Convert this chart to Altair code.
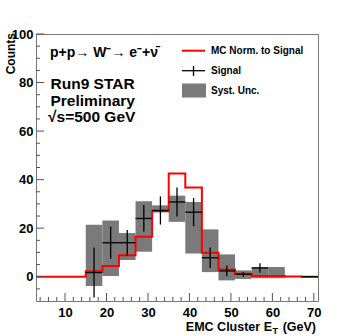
import altair as alt
import pandas as pd

# ---- data ----
bin_edges = list(range(3, 72, 4))  # 3, 7, ..., 71
mc_counts = [0, 0, 0, 2.3, 4.4, 8.8, 16.5, 27.0, 42.5, 36.8, 9.9, 3.0, 1.2, 0.3, 0.3, 0.1, 0.0]

sig_x = [17, 21, 25, 29, 33, 37, 41, 45, 49, 53, 57, 69]
sig_y = [1.7, 14.0, 14.0, 24.0, 27.3, 30.8, 26.6, 7.8, 2.4, 1.0, 3.6, 0.0]
sig_err = [10.3, 6.7, 5.3, 5.5, 5.8, 6.0, 5.8, 4.2, 2.2, 1.0, 2.0, 0.0]

syst_left = [15, 19, 23, 27, 31, 35, 39, 43, 47, 51, 55, 59]
syst_low = [-3.8, 0.3, 6.9, 10.3, 26.6, 22.6, 9.6, 1.9, -1.5, -0.9, -0.6, -0.6]
syst_high = [21.4, 23.2, 18.0, 31.1, 29.4, 33.4, 30.8, 19.5, 9.2, 2.6, 4.0, 4.0]

bin_width = 4
x_major = [10, 20, 30, 40, 50, 60, 70]
x_minor = [v for v in range(4, 71, 2) if v % 10 != 0]
y_major = [0, 20, 40, 60, 80, 100]
y_minor = [v for v in range(-5, 100, 5) if v % 20 != 0]

FONT = "Liberation Sans"
W, H = 282, 267

xs = alt.Scale(domain=[3, 71], nice=False, zero=False)
ys = alt.Scale(domain=[-10, 100], nice=False, zero=False)

# ---- tables ----
mc_df = pd.DataFrame({"x": bin_edges, "y": mc_counts + [mc_counts[-1]]})
sig_df = pd.DataFrame({"x": sig_x, "y": sig_y, "err": sig_err})
sig_df["xl"] = sig_df["x"] - bin_width / 2
sig_df["xr"] = sig_df["x"] + bin_width / 2
sig_df["lo"] = sig_df["y"] - sig_df["err"]
sig_df["hi"] = sig_df["y"] + sig_df["err"]
syst_df = pd.DataFrame({"l": syst_left, "lo": syst_low, "hi": syst_high})
syst_df["r"] = syst_df["l"] + bin_width

xmaj_df = pd.DataFrame({"v": x_major})
xmin_df = pd.DataFrame({"v": x_minor})
ymaj_df = pd.DataFrame({"v": y_major})
ymin_df = pd.DataFrame({"v": y_minor})

x_axis = alt.Axis(values=x_major, grid=False, domain=False, ticks=False, tickSize=0,
                  labelFont=FONT, labelFontSize=13, labelFontWeight="bold",
                  labelColor="black", labelPadding=5, title=None)
y_axis = alt.Axis(values=y_major, grid=False, domain=False, ticks=False, tickSize=0,
                  labelFont=FONT, labelFontSize=13, labelFontWeight="bold",
                  labelColor="black", labelPadding=3, title=None)

boxes = alt.Chart(syst_df).mark_rect(color="#7a7a7a", clip=True).encode(
    x=alt.X("l:Q", scale=xs, axis=x_axis), x2="r:Q",
    y=alt.Y("lo:Q", scale=ys, axis=y_axis), y2="hi:Q")

mc = alt.Chart(mc_df).mark_line(interpolate="step-after", color="#ff0000",
                                strokeWidth=2, clip=True).encode(
    x=alt.X("x:Q", scale=xs), y=alt.Y("y:Q", scale=ys))

sig_h = alt.Chart(sig_df).mark_rule(color="black", strokeWidth=1.3, clip=True).encode(
    x=alt.X("xl:Q", scale=xs), x2="xr:Q", y=alt.Y("y:Q", scale=ys))
sig_v = alt.Chart(sig_df).mark_rule(color="black", strokeWidth=1.3, clip=True).encode(
    x=alt.X("x:Q", scale=xs), y=alt.Y("lo:Q", scale=ys), y2="hi:Q")

# inward ticks
tick_col = "#555555"
xt_major = alt.Chart(xmaj_df).mark_rule(color=tick_col).encode(
    x=alt.X("v:Q", scale=xs), y=alt.value(H), y2=alt.value(H - 8))
xt_minor = alt.Chart(xmin_df).mark_rule(color=tick_col).encode(
    x=alt.X("v:Q", scale=xs), y=alt.value(H), y2=alt.value(H - 4))
yt_major = alt.Chart(ymaj_df).mark_rule(color=tick_col).encode(
    y=alt.Y("v:Q", scale=ys), x=alt.value(0), x2=alt.value(8))
yt_minor = alt.Chart(ymin_df).mark_rule(color=tick_col).encode(
    y=alt.Y("v:Q", scale=ys), x=alt.value(0), x2=alt.value(4))


def txt(s, x, y, size, align="left", baseline="alphabetic", angle=0):
    return alt.Chart(pd.DataFrame({"t": [s]})).mark_text(
        font=FONT, fontWeight="bold", fontSize=size, align=align,
        baseline=baseline, angle=angle, color="black").encode(
        text="t:N", x=alt.value(x), y=alt.value(y))


texts = [
    txt("p+p\u2192 W\u207b\u2192 e\u207b+\u03bd\u0304", 14, 23, 14),
    txt("Run9 STAR", 14.5, 55, 15.5),
    txt("Preliminary", 14.5, 72, 15.5),
    txt("\u221as=500 GeV", 12, 88, 15.5),
    txt("MC Norm. to Signal", 175, 16.5, 10, baseline="middle"),
    txt("Signal", 175, 36.5, 10, baseline="middle"),
    txt("Syst. Unc.", 175, 56.5, 10, baseline="middle"),
    txt("Counts", -25, -1, 12, align="right", baseline="middle", angle=270),
    txt("EMC Cluster E", 236, 297, 12.5, align="right"),
    txt("T", 236.5, 300, 9),
    txt("(GeV)", 280, 297, 12.5, align="right"),
]

one = pd.DataFrame({"k": [0]})
leg_line = alt.Chart(one).mark_rule(color="#ff0000", strokeWidth=2).encode(
    x=alt.value(146), x2=alt.value(169), y=alt.value(16.7))
leg_cross_h = alt.Chart(one).mark_rule(color="black", strokeWidth=1.3).encode(
    x=alt.value(146), x2=alt.value(169), y=alt.value(36.7))
leg_cross_v = alt.Chart(one).mark_rule(color="black", strokeWidth=1.3).encode(
    x=alt.value(157.5), y=alt.value(32), y2=alt.value(42))
leg_box = alt.Chart(one).mark_rect(color="#7a7a7a").encode(
    x=alt.value(146), x2=alt.value(170), y=alt.value(49.5), y2=alt.value(63.5))

chart = alt.layer(
    boxes, mc, sig_h, sig_v, xt_major, xt_minor, yt_major, yt_minor,
    leg_line, leg_cross_h, leg_cross_v, leg_box, *texts
).properties(
    width=W, height=H,
    autosize=alt.AutoSizeParams(type="none"),
    padding={"left": 36, "top": 34, "right": 36, "bottom": 35},
    background="white",
).configure_view(stroke="#777777", strokeWidth=1)

chart.save("out.html", embed_options={"renderer": "svg", "actions": False})
